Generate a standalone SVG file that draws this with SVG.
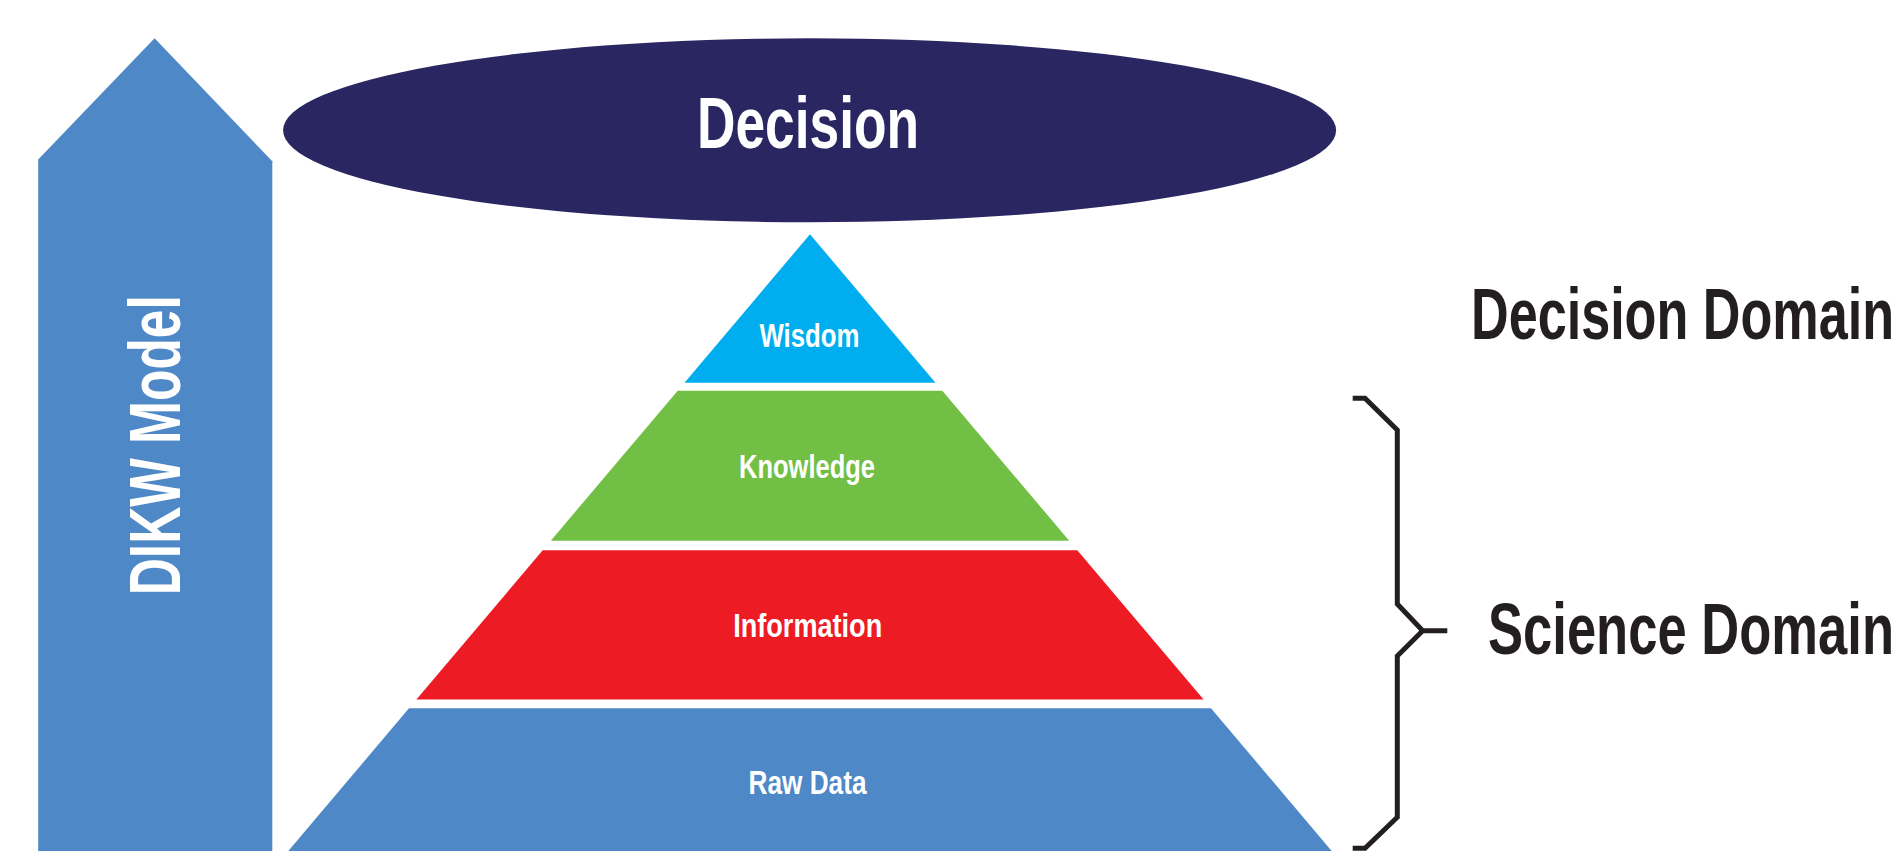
<svg xmlns="http://www.w3.org/2000/svg" width="1902" height="851" viewBox="0 0 1902 851">
<style>
.lbl{font-family:"Liberation Sans",Arial,sans-serif;font-weight:bold;}
.w{fill:#FFFFFF;}
.k{fill:#231F20;}
.big{font-size:72px;}
.small{font-size:34px;}
</style>
<rect x="0" y="0" width="1902" height="851" fill="#FFFFFF"/>
<g id="dikw-arrow">
<polygon points="38.2,851 38.2,159.5 154.6,38.3 272.3,161.3 272.3,851" fill="#4E88C7"/>
<text class="lbl w big" transform="translate(180,445.3) rotate(-90)" x="0" y="0" text-anchor="middle" textLength="300" lengthAdjust="spacingAndGlyphs">DIKW Model</text>
</g>
<g id="decision">
<ellipse cx="809.6" cy="130.3" rx="526.5" ry="92" fill="#2A2662"/>
<text class="lbl w big" x="808" y="147.7" text-anchor="middle" textLength="222" lengthAdjust="spacingAndGlyphs">Decision</text>
</g>
<g id="wisdom">
<polygon points="810,234.3 935.5,382.7 684.5,382.7" fill="#00AEEF"/>
<text class="lbl w small" x="809.5" y="346.7" text-anchor="middle" textLength="100" lengthAdjust="spacingAndGlyphs">Wisdom</text>
</g>
<g id="knowledge">
<polygon points="677.7,390.7 942.3,390.7 1069.2,540.7 550.8,540.7" fill="#72BF45"/>
<text class="lbl w small" x="807" y="478.3" text-anchor="middle" textLength="136" lengthAdjust="spacingAndGlyphs">Knowledge</text>
</g>
<g id="information">
<polygon points="542.7,550.3 1077.3,550.3 1203.6,699.5 416.4,699.5" fill="#ED1C24"/>
<text class="lbl w small" x="807.7" y="636.7" text-anchor="middle" textLength="149" lengthAdjust="spacingAndGlyphs">Information</text>
</g>
<g id="raw-data">
<polygon points="409,708.3 1211,708.3 1331.7,851 288.3,851" fill="#4E88C7"/>
<text class="lbl w small" x="807.5" y="794.3" text-anchor="middle" textLength="118" lengthAdjust="spacingAndGlyphs">Raw Data</text>
</g>
<g id="decision-domain">
<text class="lbl k big" x="1471" y="339.3" textLength="423" lengthAdjust="spacingAndGlyphs">Decision Domain</text>
</g>
<g id="science-domain">
<text class="lbl k big" x="1488" y="654.3" textLength="406" lengthAdjust="spacingAndGlyphs">Science Domain</text>
</g>
<g id="connectors">
<path d="M1352.7,398.3 L1365,398.3 L1397.3,430 L1397.3,604 L1422.7,630.7 L1447.3,630.7 M1422.7,630.7 L1397.3,656 L1397.3,817.3 L1365,848.3 L1352.7,848.3" fill="none" stroke="#231F20" stroke-width="5" stroke-linejoin="miter"/>
</g>
</svg>
